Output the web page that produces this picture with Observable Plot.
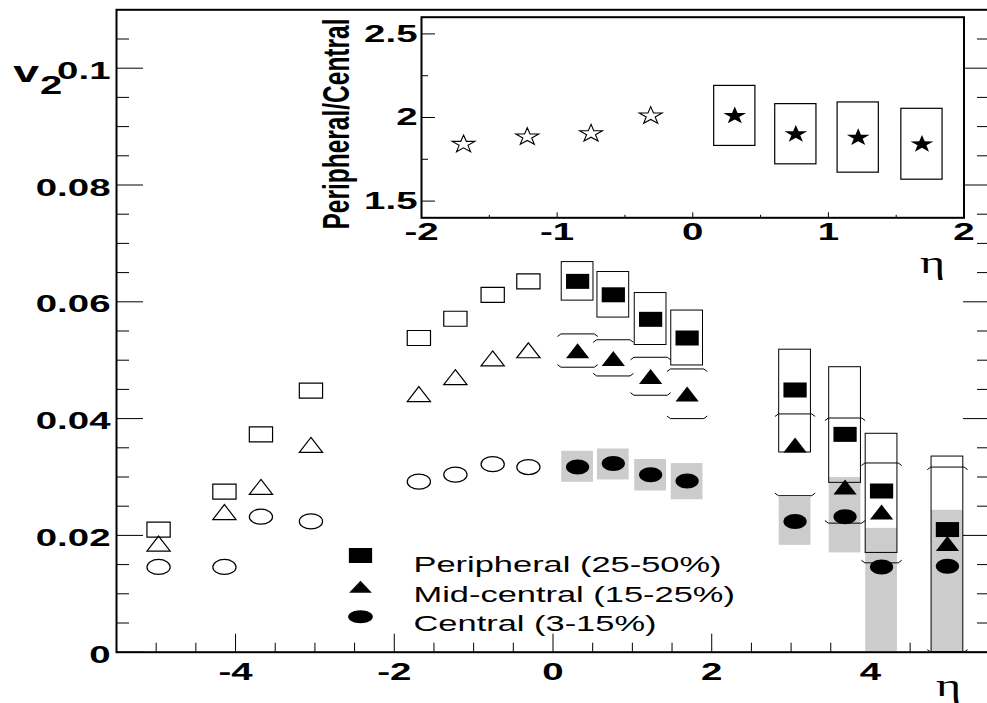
<!DOCTYPE html>
<html><head><meta charset="utf-8">
<script src="https://cdn.jsdelivr.net/npm/d3@7"></script>
<script src="https://cdn.jsdelivr.net/npm/@observablehq/plot@0.6"></script>
<style>
html,body{margin:0;padding:0;background:#fff;}
#wrap{position:relative;width:987px;height:703px;overflow:hidden;background:#fff;}
#wrap svg{position:absolute;top:0;}
</style></head><body><div id="wrap"></div>
<script>
// ---------- data ----------
const etaPos = [0.31, 0.76, 1.23, 1.69, 3.05, 3.68, 4.14, 4.97];
const etaNeg = [-0.31, -0.76, -1.23, -1.69, -3.05, -3.68, -4.14, -4.97];
const periphPos = [0.0635, 0.0612, 0.0570, 0.0538, 0.0449, 0.0373, 0.0276, 0.0210];
const periphNeg = [0.0635, 0.0612, 0.0571, 0.0538, 0.0448, 0.0373, 0.0275, 0.0210];
const periphSysHi = [0.0668, 0.0651, 0.0615, 0.0585, 0.0518, 0.0488, 0.0374, 0.0335];
const periphSysLo = [0.0602, 0.0573, 0.0526, 0.0491, 0.0342, 0.0290, 0.0170, 0.0];
const midPos = [0.0516, 0.0503, 0.0472, 0.0442, 0.0355, 0.0283, 0.0240, 0.0186];
const midNeg = [0.0517, 0.0503, 0.0471, 0.0442, 0.0355, 0.0283, 0.0240, 0.0186];
const midSysHi = [0.0545, 0.0535, 0.0505, 0.0485, 0.0408, 0.0401, 0.0324, 0.0317];
const midSysLo = [0.0488, 0.0473, 0.0440, 0.0400, 0.0268, 0.0221, 0.0153, 0.0];
const centPos = [0.0317, 0.0323, 0.0304, 0.0293, 0.0224, 0.0232, 0.0146, 0.0147];
const centNeg = [0.0317, 0.0322, 0.0304, 0.0292, 0.0224, 0.0232, 0.0146, 0.0146];
const centSysHi = [0.0344, 0.0348, 0.0330, 0.0323, 0.0265, 0.0299, 0.0212, 0.0243];
const centSysLo = [0.0291, 0.0295, 0.0276, 0.0261, 0.0183, 0.0170, 0.0, 0.0];

const ratioEtaNeg = [-1.69, -1.22, -0.75, -0.31];
const ratioNeg = [1.84, 1.884, 1.904, 2.01];
const ratioEtaPos = [0.31, 0.76, 1.22, 1.69];
const ratioPos = [2.01, 1.90, 1.88, 1.84];
const ratioSysHi = [2.189, 2.08, 2.09, 2.052];
const ratioSysLo = [1.83, 1.72, 1.67, 1.628];

const legendLabels = ["Peripheral (25-50%)", "Mid-central (15-25%)", "Central (3-15%)"];
const yMajor = [0, 0.02, 0.04, 0.06, 0.08, 0.1];
const yMinor = [0.005, 0.01, 0.015, 0.025, 0.03, 0.035, 0.045, 0.05, 0.055, 0.065, 0.07, 0.075, 0.085, 0.09, 0.095, 0.105];
const xMajor = [-4, -2, 0, 2, 4];
const xMinor = [-5, -4.5, -3.5, -3, -2.5, -1.5, -1, -0.5, 0.5, 1, 1.5, 2.5, 3, 3.5, 4.5, 5];
const insetYMajor = [1.5, 2, 2.5];
const insetYMinor = [1.75, 2.25];
const insetXMajor = [-2, -1, 0, 1, 2];
const insetXMinor = [-1.5, -0.5, 0.5, 1.5];
const yLabelMain = ["v", "2"];
const insetYLabel = ["Peripheral/Central"];
const etaLabel = ["η"];

// ---------- custom (horizontally stretched) marker shapes ----------
function rectSym(sx) { return {draw(c, size) { const r = Math.sqrt(size / Math.PI), a = r * sx, b = r;
  c.moveTo(-a, -b); c.lineTo(a, -b); c.lineTo(a, b); c.lineTo(-a, b); c.closePath(); }}; }
function triSym(sx) { return {draw(c, size) { const r = Math.sqrt(size / Math.PI), a = r * sx, b = r;
  c.moveTo(0, -b); c.lineTo(a, b); c.lineTo(-a, b); c.closePath(); }}; }
function ellSym(sx) { return {draw(c, size) { const r = Math.sqrt(size / Math.PI), a = r * sx, b = r, k = 0.5523;
  c.moveTo(a, 0); c.bezierCurveTo(a, b * k, a * k, b, 0, b); c.bezierCurveTo(-a * k, b, -a, b * k, -a, 0);
  c.bezierCurveTo(-a, -b * k, -a * k, -b, 0, -b); c.bezierCurveTo(a * k, -b, a, -b * k, a, 0); c.closePath(); }}; }
function starSym(sx, kk) { return {draw(c, size) { const r = Math.sqrt(size / Math.PI), R = r * kk, ri = R * 0.39;
  for (let i = 0; i < 10; i++) { const rr = i % 2 ? ri : R, t = -Math.PI / 2 + i * Math.PI / 5;
    const x = Math.cos(t) * rr * sx, y = Math.sin(t) * rr; if (i) c.lineTo(x, y); else c.moveTo(x, y); }
  c.closePath(); }}; }

const SQ = rectSym(1.55), TR = triSym(1.55), EL = ellSym(1.55), ST = starSym(1.3, 1.23);
const R = 7.5;
const idx = d3.range(etaPos.length);
const ridx = d3.range(ratioEtaPos.length);
const boxHW = 0.2, brHW = 0.25, brFlat = 0.21, brDv = 0.0004;

const brackets = [];
idx.forEach(i => {
  const e = etaPos[i];
  [[midSysHi[i], -brDv], [midSysLo[i], brDv]].forEach(([v, d], j) => {
    const k = i * 2 + j;
    brackets.push({k, x: e - brHW, y: v + d}, {k, x: e - brFlat, y: v}, {k, x: e + brFlat, y: v}, {k, x: e + brHW, y: v + d});
  });
});

const noText = () => "";
const fmt = d => String(d);
const baseStyle = {fontFamily: "'Liberation Sans', Arial, sans-serif", fontSize: "24px", fontWeight: "bold",
  background: "transparent", maxWidth: "none", overflow: "visible"};
const serif = "'Liberation Serif', 'DejaVu Serif', serif";

const main = Plot.plot({
  width: 987, height: 703,
  marginLeft: 116, marginRight: -2, marginTop: 9.3, marginBottom: 51.3,
  x: {domain: [-5.5, 5.5]},
  y: {domain: [0, 0.11]},
  style: baseStyle,
  marks: [
    Plot.axisY({ticks: yMajor, anchor: "left", tickSize: -27, tickFormat: noText, label: null}),
    Plot.axisY({ticks: yMinor, anchor: "left", tickSize: -13, tickFormat: noText, label: null}),
    Plot.axisY({ticks: yMajor, anchor: "right", tickSize: -27, tickFormat: noText, label: null}),
    Plot.axisY({ticks: yMinor, anchor: "right", tickSize: -13, tickFormat: noText, label: null}),
    Plot.axisY({ticks: yMajor, anchor: "left", tickSize: 0, tickPadding: 6, dy: 3, tickFormat: fmt, label: null}),
    Plot.axisX({ticks: xMajor, anchor: "bottom", tickSize: -18, tickFormat: noText, label: null}),
    Plot.axisX({ticks: xMinor, anchor: "bottom", tickSize: -9, tickFormat: noText, label: null}),
    Plot.axisX({ticks: xMajor, anchor: "bottom", tickSize: 0, tickPadding: 11, tickFormat: fmt, label: null}),
    // systematic errors
    Plot.rect(idx, {x1: i => etaPos[i] - boxHW, x2: i => etaPos[i] + boxHW, y1: i => centSysLo[i], y2: i => centSysHi[i], fill: "#cccccc"}),
    Plot.rect(idx, {x1: i => etaPos[i] - boxHW, x2: i => etaPos[i] + boxHW, y1: i => periphSysLo[i], y2: i => periphSysHi[i], fill: "none", stroke: "black", strokeWidth: 1}),
    Plot.line(brackets, {x: "x", y: "y", z: "k", stroke: "black", strokeWidth: 1, curve: "linear"}),
    // points
    Plot.dot(idx, {x: i => etaNeg[i], y: i => periphNeg[i], symbol: SQ, r: R, fill: "none", stroke: "black", strokeWidth: 1.2}),
    Plot.dot(idx, {x: i => etaNeg[i], y: i => midNeg[i], symbol: TR, r: R, fill: "none", stroke: "black", strokeWidth: 1.2}),
    Plot.dot(idx, {x: i => etaNeg[i], y: i => centNeg[i], symbol: EL, r: R, fill: "none", stroke: "black", strokeWidth: 1.2}),
    Plot.dot(idx, {x: i => etaPos[i], y: i => periphPos[i], symbol: SQ, r: R, fill: "black", stroke: "none"}),
    Plot.dot(idx, {x: i => etaPos[i], y: i => midPos[i], symbol: TR, r: R, fill: "black", stroke: "none"}),
    Plot.dot(idx, {x: i => etaPos[i], y: i => centPos[i], symbol: EL, r: R, fill: "black", stroke: "none"}),
    Plot.frame({stroke: "black", strokeWidth: 2}),
    // legend
    Plot.dot([0], {frameAnchor: "top-left", dx: 244, dy: 545.7, symbol: SQ, r: R, fill: "black"}),
    Plot.dot([0], {frameAnchor: "top-left", dx: 244, dy: 577, symbol: triSym(1.9), r: 6, fill: "black"}),
    Plot.dot([0], {frameAnchor: "top-left", dx: 244, dy: 607, symbol: ellSym(1.9), r: 6.5, fill: "black"}),
    ...legendLabels.map((t, i) => Plot.text([t], {text: d => d, frameAnchor: "top-left", dx: 297, dy: 546.7 + i * 29.5,
      textAnchor: "start", fontSize: 22.5, fontWeight: "normal"})),
    // axis titles
    Plot.text([yLabelMain[0]], {text: d => d, frameAnchor: "top-left", dx: -103.3, dy: 52, textAnchor: "start", fontSize: 29, fontWeight: "bold"}),
    Plot.text([yLabelMain[1]], {text: d => d, frameAnchor: "top-left", dx: -76.5, dy: 66, textAnchor: "start", fontSize: 25, fontWeight: "bold"}),
    Plot.text(etaLabel, {text: d => d, frameAnchor: "bottom-right", dx: -41, dy: 44, textAnchor: "middle",
      fontSize: 32, fontWeight: "normal", fontFamily: serif})
  ]
});

const inset = Plot.plot({
  width: 687, height: 300,
  marginLeft: 121, marginRight: 23.5, marginTop: 16.7, marginBottom: 82.7,
  x: {domain: [-2, 2]},
  y: {domain: [1.4, 2.6]},
  style: baseStyle,
  marks: [
    Plot.axisY({ticks: insetYMajor, anchor: "left", tickSize: -14, tickFormat: noText, label: null}),
    Plot.axisY({ticks: insetYMinor, anchor: "left", tickSize: -7, tickFormat: noText, label: null}),
    Plot.axisY({ticks: insetYMajor, anchor: "left", tickSize: 0, tickPadding: 4, tickFormat: fmt, label: null}),
    Plot.axisX({ticks: insetXMajor, anchor: "bottom", tickSize: -5, tickFormat: noText, label: null}),
    Plot.axisX({ticks: insetXMinor, anchor: "bottom", tickSize: -2.5, tickFormat: noText, label: null}),
    Plot.axisX({ticks: insetXMajor, anchor: "bottom", tickSize: 0, tickPadding: 5, tickFormat: fmt, label: null}),
    Plot.rect(ridx, {x1: i => ratioEtaPos[i] - 0.152, x2: i => ratioEtaPos[i] + 0.152, y1: i => ratioSysLo[i], y2: i => ratioSysHi[i],
      fill: "none", stroke: "black", strokeWidth: 1.2}),
    Plot.dot(ridx, {x: i => ratioEtaNeg[i], y: i => ratioNeg[i], symbol: ST, r: R, fill: "none", stroke: "black", strokeWidth: 1.1}),
    Plot.dot(ridx, {x: i => ratioEtaPos[i], y: i => ratioPos[i], symbol: ST, r: R, fill: "black", stroke: "none"}),
    Plot.frame({stroke: "black", strokeWidth: 2}),
    Plot.text(insetYLabel, {text: d => d, frameAnchor: "left", rotate: -90, dx: -84.4, dy: 6.5, textAnchor: "middle",
      fontSize: 24.5, fontWeight: "bold"}),
    Plot.text(etaLabel, {text: d => d, frameAnchor: "bottom-right", dx: -31.5, dy: 55, textAnchor: "middle",
      fontSize: 32, fontWeight: "normal", fontFamily: serif})
  ]
});

const wrap = document.getElementById("wrap");
main.style.left = "0px";
inset.style.left = "300px";
wrap.appendChild(main);
wrap.appendChild(inset);

// ---------- emulate the horizontally stretched lettering of the original ----------
function stretchTexts(svg) {
  svg.querySelectorAll("text").forEach(t => {
    const s = t.textContent.trim();
    if (!s) return;
    if (insetYLabel.includes(s)) {
      const tr = t.getAttribute("transform") || "";
      t.setAttribute("transform", tr + " scale(1,1.5)");
      return;
    }
    let f = 1.6;
    if (legendLabels.includes(s)) f = 1.53;
    else if (etaLabel.includes(s)) f = 1.5;
    const len = t.getComputedTextLength();
    if (len > 0) {
      t.setAttribute("textLength", (len * f).toFixed(2));
      t.setAttribute("lengthAdjust", "spacingAndGlyphs");
    }
  });
}
stretchTexts(main);
stretchTexts(inset);
</script>
</body></html>
